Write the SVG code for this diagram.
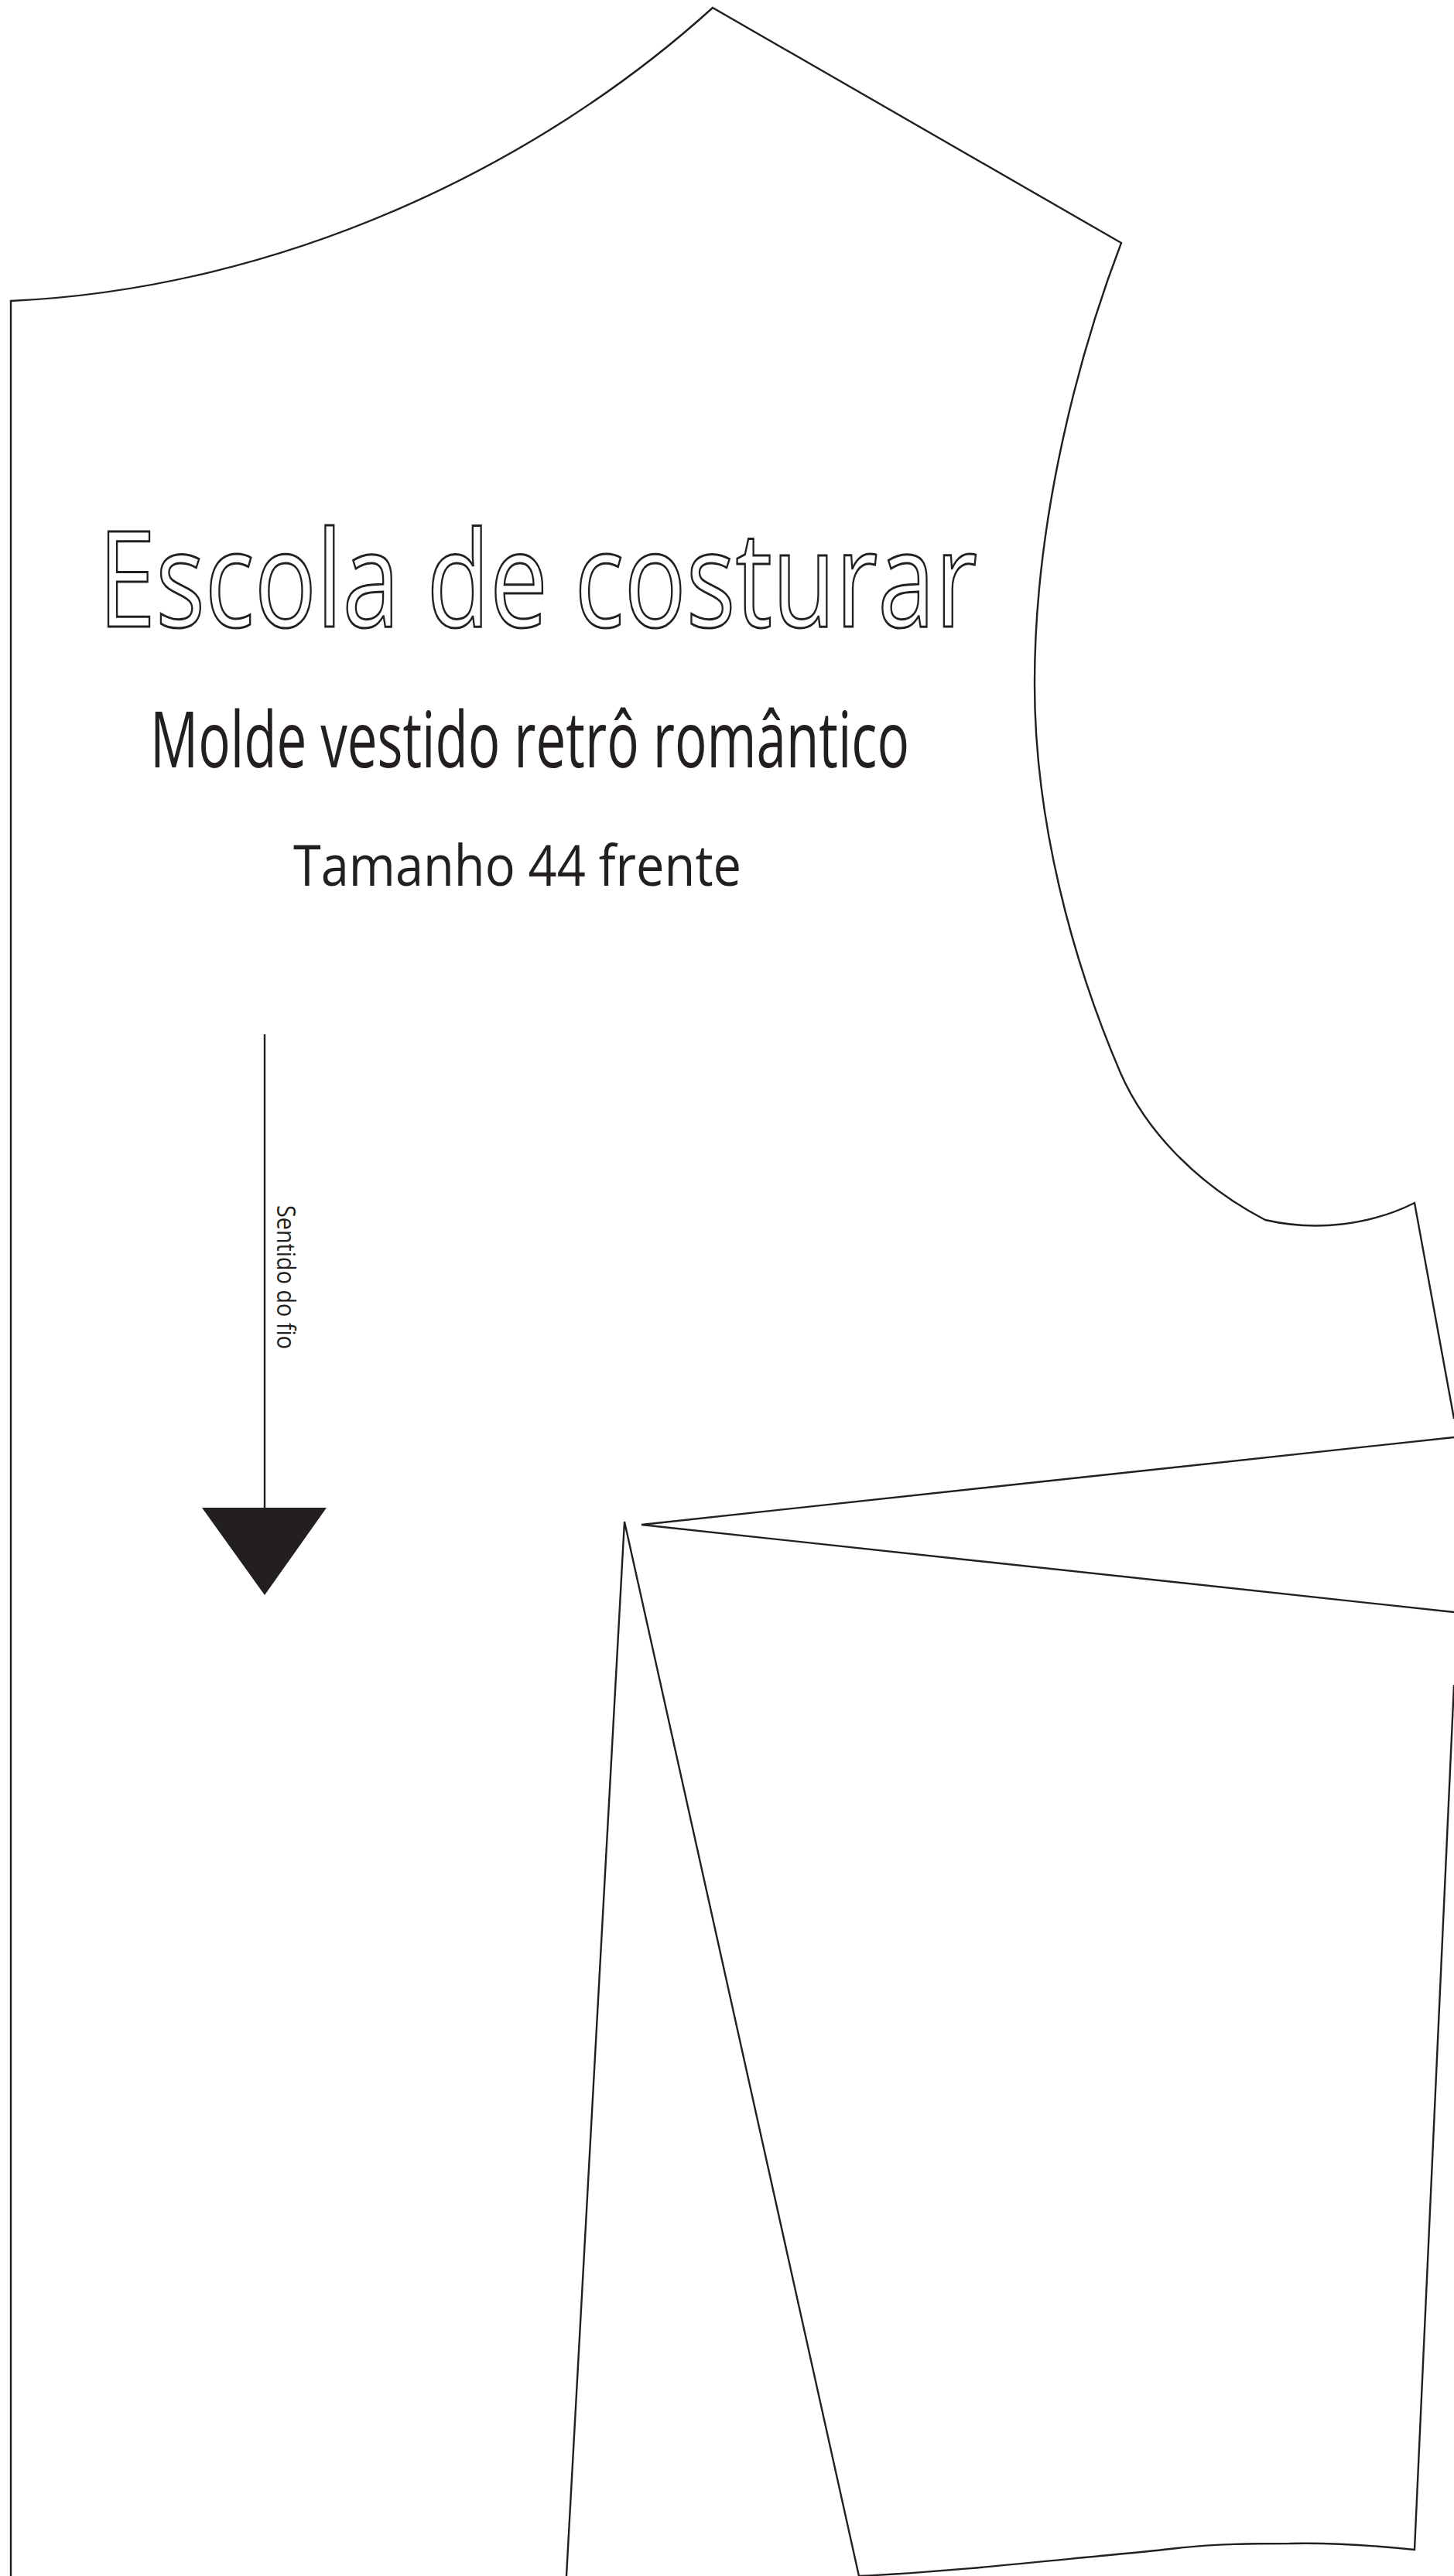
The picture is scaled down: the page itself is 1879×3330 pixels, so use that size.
<svg xmlns="http://www.w3.org/2000/svg" width="1879" height="3330" viewBox="0 0 1879 3330">
<style>
.p{fill:none;stroke:#231f20;stroke-width:2.4;stroke-linejoin:miter}
.t{font-family:"Open Sans","Noto Sans",sans-serif;fill:#231f20}
</style>
<rect width="1879" height="3330" fill="#fff"/>
<g id="pattern">
<path class="p" d="M14 3330V389C365 373 695 215 921 10L1449 314C1395 455 1337 670 1337 884C1337 1060 1385 1240 1448 1387C1480 1460 1545 1530 1635 1577C1700 1592 1770 1584 1828 1555L1879 1834"/>
<path class="p" d="M1879 1858L829 1971L1879 2084"/>
<path class="p" d="M1879 2178L1828 3296C1770 3290 1710 3287 1667 3288C1625 3288 1570 3288 1512 3295C1470 3300 1430 3303 1391 3307C1300 3316 1200 3326 1110 3330L807 1967L732 3330"/>
</g>
<g id="grain">
<line class="p" x1="342" y1="1337" x2="342" y2="1955"/>
<polygon points="261,1949 422,1949 342,2062" fill="#231f20"/>
<text class="t" transform="translate(358 1558) rotate(90)" font-size="33" font-weight="500" textLength="186" lengthAdjust="spacingAndGlyphs">Sentido do fio</text>
</g>
<g id="title">
<text class="t" x="127" y="810" font-size="172" textLength="1136" lengthAdjust="spacingAndGlyphs" style="fill:#fff;stroke:#231f20;stroke-width:3">Escola de costurar</text>
<text class="t" x="194" y="992" font-size="100" font-weight="500" textLength="981" lengthAdjust="spacingAndGlyphs">Molde vestido retrô romântico</text>
<text class="t" x="379" y="1145" font-size="73" font-weight="500" textLength="579" lengthAdjust="spacingAndGlyphs">Tamanho 44 frente</text>
</g>
</svg>
